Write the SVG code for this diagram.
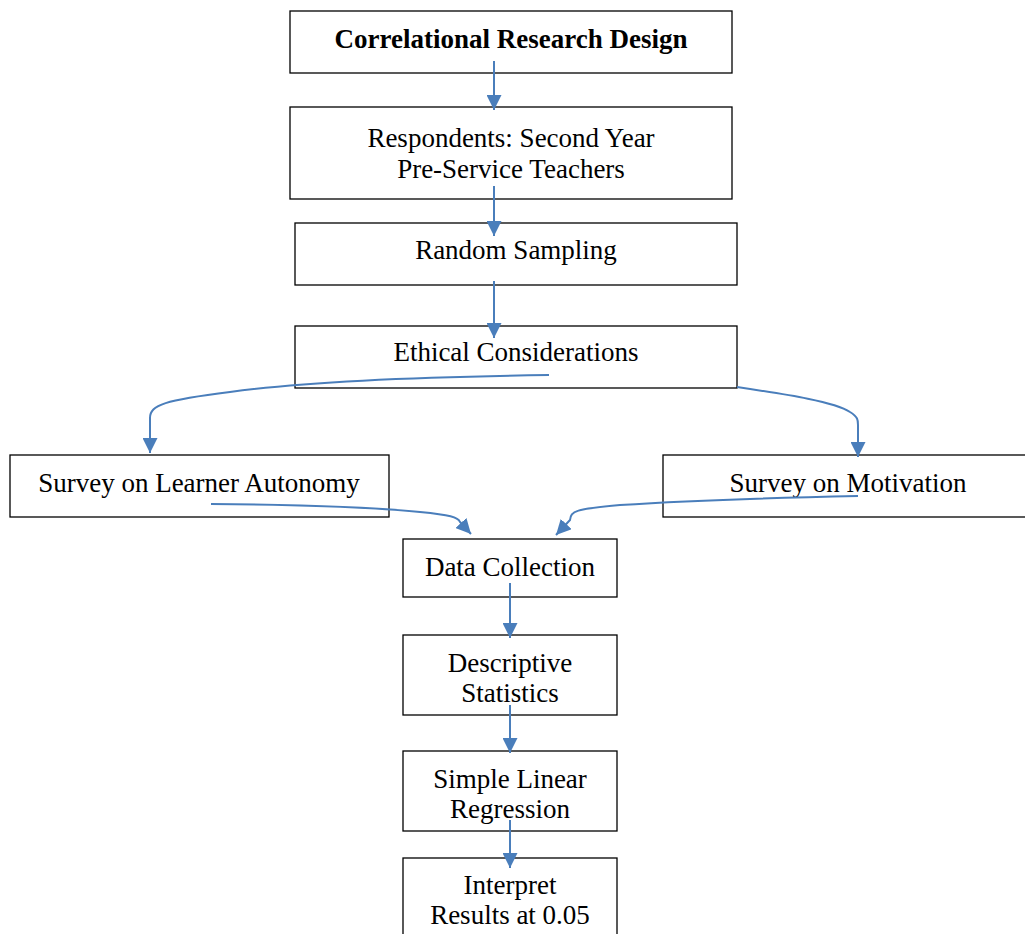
<svg xmlns="http://www.w3.org/2000/svg" width="1025" height="934" viewBox="0 0 1025 934">
<style>
.box{fill:#fff;stroke:#000;stroke-width:1.3}
.t{font-family:"Liberation Serif","Times New Roman",serif;font-size:27px;fill:#000;text-anchor:middle}
.b{font-weight:bold}
.c{fill:none;stroke:#4a7ebb;stroke-width:2}
</style>
<defs>
<marker id="ah" viewBox="0 0 10 10" refX="10" refY="5" markerWidth="7.5" markerHeight="7.5" markerUnits="strokeWidth" orient="auto">
<path d="M0,0 L10,5 L0,10 z" fill="#4a7ebb"/>
</marker>
</defs>
<rect width="1025" height="934" fill="#fff"/>
<g id="n1"><rect class="box" x="290" y="11" width="442" height="62"/><text class="t b" x="511" y="48">Correlational Research Design</text></g>
<g id="n2"><rect class="box" x="290" y="107" width="442" height="92"/><text class="t" x="511" y="147">Respondents: Second Year</text><text class="t" x="511" y="178">Pre-Service Teachers</text></g>
<g id="n3"><rect class="box" x="295" y="223" width="442" height="62"/><text class="t" x="516" y="259">Random Sampling</text></g>
<g id="n4"><rect class="box" x="295" y="326" width="442" height="62"/><text class="t" x="516" y="361">Ethical Considerations</text></g>
<g id="n5"><rect class="box" x="10" y="455" width="379" height="62"/><text class="t" x="199" y="492">Survey on Learner Autonomy</text></g>
<g id="n6"><rect class="box" x="663" y="455" width="370" height="62"/><text class="t" x="848" y="492">Survey on Motivation</text></g>
<g id="n7"><rect class="box" x="403" y="539" width="214" height="58"/><text class="t" x="510" y="576">Data Collection</text></g>
<g id="n8"><rect class="box" x="403" y="635" width="214" height="80"/><text class="t" x="510" y="672">Descriptive</text><text class="t" x="510" y="702">Statistics</text></g>
<g id="n9"><rect class="box" x="403" y="751" width="214" height="80"/><text class="t" x="510" y="788">Simple Linear</text><text class="t" x="510" y="818">Regression</text></g>
<g id="n10"><rect class="box" x="403" y="858" width="214" height="90"/><text class="t" x="510" y="894">Interpret</text><text class="t" x="510" y="924">Results at 0.05</text></g>
<g id="connectors">
<path class="c" d="M494,61 V110" marker-end="url(#ah)"/>
<path class="c" d="M494,186 V236" marker-end="url(#ah)"/>
<path class="c" d="M494,281 V338" marker-end="url(#ah)"/>
<path class="c" d="M549,375 C400,377 300,382 230,392 C165,400 150,405 150,418 V453" marker-end="url(#ah)"/>
<path class="c" d="M737,387 C790,395 835,402 850,412 C858,417 858,420 858,425 V457" marker-end="url(#ah)"/>
<path class="c" d="M211,504 C320,505 380,508 420,512 C450,515 458,517 460,522 L471,534" marker-end="url(#ah)"/>
<path class="c" d="M858,496 C760,498 680,501 620,505 C575,509 571,511 570,520 L556,535" marker-end="url(#ah)"/>
<path class="c" d="M510,583 V638" marker-end="url(#ah)"/>
<path class="c" d="M510,705 V753" marker-end="url(#ah)"/>
<path class="c" d="M510,820 V868" marker-end="url(#ah)"/>
</g>
</svg>
